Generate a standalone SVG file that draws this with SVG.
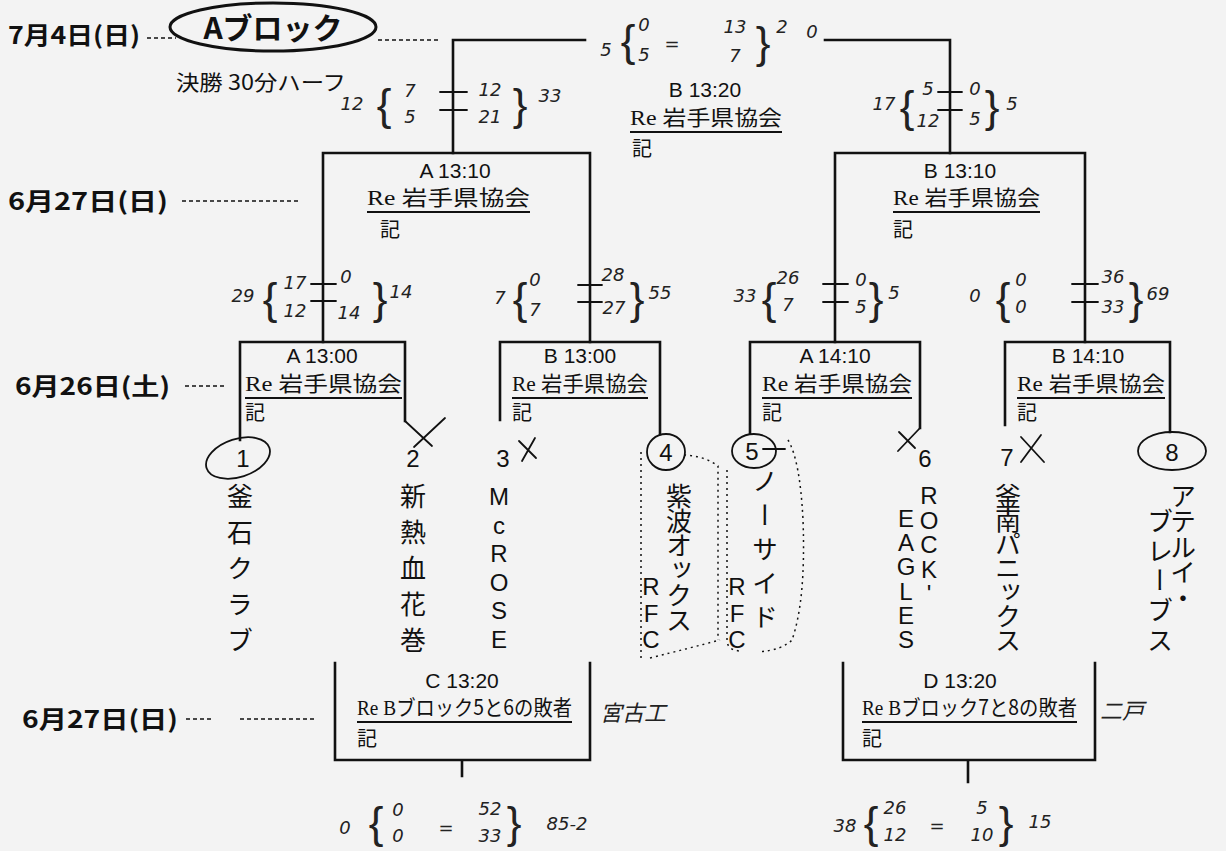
<svg xmlns="http://www.w3.org/2000/svg" width="1226" height="851" viewBox="0 0 1226 851">
<style>
.ln{stroke:#111;stroke-width:2.6;fill:none;stroke-linecap:square}
.ul{stroke:#111;stroke-width:2;fill:none}
.dash{stroke:#111;stroke-width:1.6;stroke-dasharray:4 3;fill:none}
.dot{stroke:#111;stroke-width:1.5;stroke-dasharray:2 4;fill:none}
.hand{stroke:#111;stroke-width:1.8;fill:none;stroke-linecap:round}
.date{font-family:"Noto Sans CJK JP","Noto Sans",sans-serif;font-weight:bold;font-size:24px;fill:#111}
.tm{font-family:"Liberation Sans",Arial,sans-serif;font-size:21px;fill:#111;text-anchor:middle}
.re{font-family:"Liberation Serif","Noto Sans CJK JP",serif;font-size:21px;fill:#111}
.jp{font-family:"Noto Sans CJK JP",sans-serif}
.ki{font-family:"Noto Sans CJK JP",sans-serif;font-size:20px;fill:#111}
.vt{writing-mode:vertical-rl;text-orientation:upright;font-family:"Noto Sans CJK JP","Noto Sans",sans-serif;font-size:26px;fill:#111}
.vl{writing-mode:vertical-rl;text-orientation:upright;font-family:"Liberation Sans",Arial,sans-serif;font-size:24px;fill:#111}
.num{font-family:"Liberation Sans",Arial,sans-serif;font-size:24px;fill:#111;text-anchor:middle}
.hw{font-family:"DejaVu Sans",sans-serif;font-style:italic;font-size:18px;fill:#222;text-anchor:middle}
.br{font-family:"Liberation Sans",Arial,sans-serif;font-size:44px;fill:#222;text-anchor:middle}
.hj{font-family:"Noto Sans CJK JP",sans-serif;font-size:22px;fill:#222}
</style>
<rect x="0" y="0" width="1226" height="851" fill="#f3f3f3"/>

<g id="dates">
  <text class="date" x="8" y="44" textLength="132" lengthAdjust="spacingAndGlyphs">7月4日(日)</text>
  <path class="dash" d="M147,38 H176 M378,40 H440"/>
  <text class="date" x="8" y="210" textLength="160" lengthAdjust="spacingAndGlyphs">6月27日(日)</text>
  <path class="dash" d="M182,201 H300"/>
  <text class="date" x="15" y="395" textLength="155" lengthAdjust="spacingAndGlyphs">6月26日(土)</text>
  <path class="dash" d="M185,386 H225"/>
  <text class="date" x="22" y="728" textLength="156" lengthAdjust="spacingAndGlyphs">6月27日(日)</text>
  <path class="dash" d="M186,719 H212 M240,719 H316"/>
</g>

<g id="title">
  <ellipse cx="273" cy="27" rx="103" ry="24" fill="none" stroke="#111" stroke-width="3"/>
  <text x="273" y="39" text-anchor="middle" font-family="Noto Sans CJK JP, sans-serif" font-weight="bold" font-size="30" fill="#111">Aブロック</text>
  <text x="176" y="90" font-family="Noto Sans CJK JP, sans-serif" font-size="21" fill="#111" textLength="170" lengthAdjust="spacingAndGlyphs">決勝 30分ハーフ</text>
</g>

<g id="connectors">
  <path class="ln" d="M453,153 V40 H585 M825,40 H950 V153"/>
  <path class="ln" d="M323,342 V153 H590 V342"/>
  <path class="ln" d="M835,342 V153 H1085 V342"/>
  <path class="ln" d="M240,440 V342 H405 V421"/>
  <path class="ln" d="M500,420 V342 H660 V434"/>
  <path class="ln" d="M750,433 V342 H920 V428"/>
  <path class="ln" d="M1005,425 V342 H1170 V432"/>
  <path class="ln" d="M335,663 V760 H590 V663 M462,760 V776"/>
  <path class="ln" d="M843,663 V760 H1095 V663 M968,760 V782"/>
</g>

<g id="match-final">
  <text class="tm" x="705" y="97">B  13:20</text>
  <text class="re" x="630" y="125" textLength="152" lengthAdjust="spacingAndGlyphs">Re <tspan class="jp">岩手県協会</tspan></text>
  <path class="ul" d="M630,132 H782"/>
  <text class="ki" x="632" y="156">記</text>
</g>
<g id="match-sf-a">
  <text class="tm" x="455" y="178">A  13:10</text>
  <text class="re" x="367" y="205" textLength="163" lengthAdjust="spacingAndGlyphs">Re <tspan class="jp">岩手県協会</tspan></text>
  <path class="ul" d="M367,212 H530"/>
  <text class="ki" x="380" y="237">記</text>
</g>
<g id="match-sf-b">
  <text class="tm" x="960" y="178">B  13:10</text>
  <text class="re" x="893" y="205" textLength="147" lengthAdjust="spacingAndGlyphs">Re <tspan class="jp">岩手県協会</tspan></text>
  <path class="ul" d="M893,212 H1040"/>
  <text class="ki" x="893" y="237">記</text>
</g>
<g id="match-qf-a1">
  <text class="tm" x="322" y="363">A  13:00</text>
  <text class="re" x="245" y="391" textLength="157" lengthAdjust="spacingAndGlyphs">Re <tspan class="jp">岩手県協会</tspan></text>
  <path class="ul" d="M245,398 H402"/>
  <text class="ki" x="245" y="420">記</text>
</g>
<g id="match-qf-b1">
  <text class="tm" x="580" y="363">B  13:00</text>
  <text class="re" x="512" y="391" textLength="136" lengthAdjust="spacingAndGlyphs">Re <tspan class="jp">岩手県協会</tspan></text>
  <path class="ul" d="M512,398 H648"/>
  <text class="ki" x="512" y="420">記</text>
</g>
<g id="match-qf-a2">
  <text class="tm" x="835" y="363">A  14:10</text>
  <text class="re" x="762" y="391" textLength="150" lengthAdjust="spacingAndGlyphs">Re <tspan class="jp">岩手県協会</tspan></text>
  <path class="ul" d="M762,398 H912"/>
  <text class="ki" x="762" y="420">記</text>
</g>
<g id="match-qf-b2">
  <text class="tm" x="1088" y="363">B  14:10</text>
  <text class="re" x="1017" y="391" textLength="148" lengthAdjust="spacingAndGlyphs">Re <tspan class="jp">岩手県協会</tspan></text>
  <path class="ul" d="M1017,398 H1165"/>
  <text class="ki" x="1017" y="420">記</text>
</g>
<g id="match-c">
  <text class="tm" x="462" y="688">C  13:20</text>
  <text class="re" x="357" y="715" textLength="215" lengthAdjust="spacingAndGlyphs">Re B<tspan class="jp">ブロック5と6の敗者</tspan></text>
  <path class="ul" d="M357,722 H572"/>
  <text class="ki" x="357" y="746">記</text>
</g>
<g id="match-d">
  <text class="tm" x="960" y="688">D  13:20</text>
  <text class="re" x="862" y="715" textLength="215" lengthAdjust="spacingAndGlyphs">Re B<tspan class="jp">ブロック7と8の敗者</tspan></text>
  <path class="ul" d="M862,722 H1077"/>
  <text class="ki" x="862" y="746">記</text>
</g>

<g id="team-1">
  <text class="num" x="243" y="467">1</text>
  <ellipse cx="238" cy="458" rx="33" ry="19" transform="rotate(-18 238 458)" class="hand"/>
  <text class="vt" x="240" y="483" font-size="28" textLength="170" lengthAdjust="spacing">釜石クラブ</text>
</g>
<g id="team-2">
  <text class="num" x="413" y="467">2</text>
  <text class="vt" x="413" y="483" font-size="28" textLength="170" lengthAdjust="spacing">新熱血花巻</text>
</g>
<g id="team-3">
  <text class="num" x="503" y="467">3</text>
  <text class="vl" x="499" y="483" textLength="170" lengthAdjust="spacing">McROSE</text>
</g>
<g id="team-4">
  <text class="num" x="666" y="461">4</text>
  <ellipse cx="666" cy="452" rx="19" ry="18" class="hand"/>
  <text class="vt" x="679" y="483" font-size="24" textLength="150" lengthAdjust="spacing">紫波オックス</text>
  <text class="vl" x="651" y="573" font-size="22" textLength="80" lengthAdjust="spacing">RFC</text>
</g>
<g id="team-5">
  <text class="num" x="752" y="460">5</text>
  <ellipse cx="754" cy="451" rx="22" ry="17" class="hand"/>
  <text class="vt" x="765" y="468" font-size="27" textLength="162" lengthAdjust="spacing">ノーサイド</text>
  <text class="vl" x="737" y="573" font-size="22" textLength="80" lengthAdjust="spacing">RFC</text>
</g>
<g id="team-6">
  <text class="num" x="925" y="467">6</text>
  <text class="vl" x="929" y="482" textLength="125" lengthAdjust="spacing">ROCK'</text>
  <text class="vl" x="906" y="505" textLength="148" lengthAdjust="spacing">EAGLES</text>
</g>
<g id="team-7">
  <text class="num" x="1007" y="466">7</text>
  <text class="vt" x="1008" y="483" font-size="24" textLength="170" lengthAdjust="spacing">釜南パニックス</text>
</g>
<g id="team-8">
  <text class="num" x="1172" y="461">8</text>
  <ellipse cx="1172" cy="451" rx="34" ry="19" class="hand"/>
  <text class="vt" x="1183" y="483" font-size="25" textLength="128" lengthAdjust="spacing">アテルイ・</text>
  <text class="vt" x="1160" y="508" font-size="25" textLength="145" lengthAdjust="spacing">ブレーブス</text>
</g>

<g id="marks">
  <path class="hand" d="M405,421 L432,446 M445,418 L414,447"/>
  <path class="hand" d="M519,441 L536,458 M535,438 L522,461"/>
  <path class="hand" d="M920,428 L898,451 M899,432 L915,448"/>
  <path class="hand" d="M1021,437 L1044,462 M1041,435 L1021,462"/>
  <path class="dot" d="M641,452 V658 M650,658 Q690,648 720,640 M684,455 Q705,456 718,466 V640"/>
  <path class="hand" d="M763,449 H785"/>
  <path class="dot" d="M727,470 V640 Q727,650 740,651 M788,440 Q800,460 803,520 Q806,600 792,640 Q782,650 758,652"/>
</g>

<g id="scores">
  <text class="hw" x="606" y="56" font-size="40">5</text>
  <text class="br" x="628" y="56">{</text>
  <text class="hw" x="644" y="31" font-size="20">0</text>
  <text class="hw" x="644" y="61" font-size="22">5</text>
  <text class="hw" x="672" y="50" font-size="38">=</text>
  <text class="hw" x="735" y="33" font-size="24">13</text>
  <text class="hw" x="735" y="62" font-size="26">7</text>
  <text class="br" x="763" y="58">}</text>
  <text class="hw" x="782" y="33" font-size="14">2</text>
  <text class="hw" x="812" y="38" font-size="26">0</text>

  <text class="hw" x="352" y="110" font-size="22">12</text>
  <text class="br" x="384" y="120">{</text>
  <text class="hw" x="410" y="97">7</text>
  <text class="hw" x="410" y="123">5</text>
  <path class="hand" d="M440,92 H467 M440,110 H467"/>
  <text class="hw" x="490" y="96">12</text>
  <text class="hw" x="490" y="123">21</text>
  <text class="br" x="520" y="120">}</text>
  <text class="hw" x="550" y="102" font-size="14">33</text>

  <text class="hw" x="884" y="110" font-size="22">17</text>
  <text class="br" x="907" y="122">{</text>
  <text class="hw" x="928" y="95">5</text>
  <text class="hw" x="928" y="127">12</text>
  <path class="hand" d="M938,92 H962 M938,110 H962"/>
  <text class="hw" x="975" y="95">0</text>
  <text class="hw" x="975" y="125">5</text>
  <text class="br" x="992" y="122">}</text>
  <text class="hw" x="1012" y="110" font-size="22">5</text>

  <text class="hw" x="243" y="302" font-size="22">29</text>
  <text class="br" x="270" y="314">{</text>
  <text class="hw" x="295" y="289">17</text>
  <text class="hw" x="295" y="317">12</text>
  <path class="hand" d="M311,284 H336 M311,301 H336"/>
  <text class="hw" x="346" y="283">0</text>
  <text class="hw" x="349" y="319">14</text>
  <text class="br" x="380" y="314">}</text>
  <text class="hw" x="401" y="298" font-size="16">14</text>

  <text class="hw" x="500" y="304" font-size="26">7</text>
  <text class="br" x="520" y="314">{</text>
  <text class="hw" x="535" y="286">0</text>
  <text class="hw" x="535" y="316">7</text>
  <path class="hand" d="M578,285 H602 M578,302 H602"/>
  <text class="hw" x="613" y="281">28</text>
  <text class="hw" x="614" y="314">27</text>
  <text class="br" x="637" y="314">}</text>
  <text class="hw" x="660" y="299">55</text>

  <text class="hw" x="745" y="302" font-size="20">33</text>
  <text class="br" x="769" y="314">{</text>
  <text class="hw" x="788" y="284">26</text>
  <text class="hw" x="788" y="311">7</text>
  <path class="hand" d="M823,284 H848 M823,302 H848"/>
  <text class="hw" x="861" y="286">0</text>
  <text class="hw" x="861" y="313">5</text>
  <text class="br" x="876" y="314">}</text>
  <text class="hw" x="894" y="299">5</text>

  <text class="hw" x="975" y="302" font-size="24">0</text>
  <text class="br" x="1003" y="314">{</text>
  <text class="hw" x="1021" y="286">0</text>
  <text class="hw" x="1021" y="313">0</text>
  <path class="hand" d="M1072,284 H1098 M1072,302 H1098"/>
  <text class="hw" x="1113" y="283">36</text>
  <text class="hw" x="1113" y="313">33</text>
  <text class="br" x="1136" y="314">}</text>
  <text class="hw" x="1158" y="300" font-size="24">69</text>

  <text class="hw" x="345" y="834" font-size="24">0</text>
  <text class="br" x="376" y="838">{</text>
  <text class="hw" x="398" y="816">0</text>
  <text class="hw" x="398" y="842">0</text>
  <text class="hw" x="446" y="834" font-size="40">=</text>
  <text class="hw" x="490" y="815">52</text>
  <text class="hw" x="490" y="842">33</text>
  <text class="br" x="514" y="838">}</text>
  <text class="hw" x="567" y="830" font-size="20">85-2</text>
  <text class="hj" x="600" y="721" font-style="italic">宮古工</text>

  <text class="hw" x="845" y="832" font-size="20">38</text>
  <text class="br" x="871" y="838">{</text>
  <text class="hw" x="895" y="814">26</text>
  <text class="hw" x="895" y="841">12</text>
  <text class="hw" x="937" y="832" font-size="40">=</text>
  <text class="hw" x="982" y="814">5</text>
  <text class="hw" x="982" y="841">10</text>
  <text class="br" x="1006" y="838">}</text>
  <text class="hw" x="1040" y="828" font-size="20">15</text>
  <text class="hj" x="1100" y="719" font-style="italic">二戸</text>
</g>
</svg>
